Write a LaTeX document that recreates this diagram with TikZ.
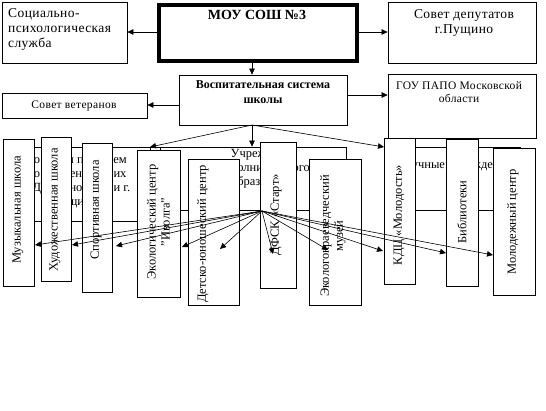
\documentclass[tikz,border=0pt]{standalone}
\usepackage{fontspec}
\setmainfont{Liberation Serif}
\newfontfamily\widefont[LetterSpace=3]{Liberation Serif}
\usetikzlibrary{arrows.meta,fit}
\begin{document}
\begin{tikzpicture}[x=1bp,y=-1bp,
 box/.style={draw, fill=white, line width=0.8bp, inner sep=0pt},
 bgbox/.style={draw, line width=0.8bp, inner sep=0pt},
 thickbox/.style={draw, fill=white, line width=3.8bp, inner sep=0pt},
 arr/.style={line width=0.6bp, -{Triangle[length=6bp,width=5.5bp]}},
 txt/.style={font=\fontsize{12.5bp}{14bp}\selectfont, inner sep=0pt, align=center},
 ttxt/.style={font=\widefont\fontsize{13.5bp}{15bp}\selectfont, inner sep=0pt, align=center},
 btxt/.style={font=\bfseries\fontsize{12bp}{15bp}\selectfont, inner sep=0pt, align=center},
 stxt/.style={font=\widefont\fontsize{11.5bp}{13bp}\selectfont, inner sep=0pt, align=center},
 vtxt/.style={txt, rotate=90},
 frag/.style={font=\fontsize{12.5bp}{14bp}\selectfont, inner sep=0pt, anchor=base}]
\useasboundingbox (0,0) rectangle (546,410);

% top row
\node[box, fit={(2,2) (127,63)}] (soc) {};
\node[ttxt, align=left, anchor=north west] (soct) at (8,8) {Социально-\\психологическая\\служба};
\node[thickbox, fit={(159,5) (357,61)}] (mou) {};
\node[font=\bfseries\fontsize{14bp}{15bp}\selectfont, inner sep=0pt, anchor=base] (mout) at (257,19) {МОУ СОШ №3};
\node[box, fit={(388,2) (536,63)}] (dep) {};
\node[ttxt, anchor=north] (dept) at (464,9) {Совет депутатов\\г.Пущино};

% second row
\node[box, fit={(179,75) (347,125)}] (vs) {};
\node[btxt, anchor=north] (vst) at (263,80) {Воспитательная система\\школы};
\node[box, fit={(2,93) (147,118)}] (vet) {};
\node[stxt, anchor=base] (vett) at (74,108) {Совет ветеранов};
\node[box, fit={(388,74) (536,138)}] (gou) {};
\node[stxt, anchor=north] (gout) at (459,81) {ГОУ ПАПО Московской\\области};

\coordinate (mouL) at (159,32);
\coordinate (mouR) at (357,32);
\coordinate (mouB) at (252,61);
\draw[arr] (mou.west |- mouL) -- (soc.east |- mouL);
\draw[arr] (mou.east |- mouR) -- (dep.west |- mouR);
\draw[arr] (mouB |- mou.south) -- (mouB |- vs.north);
\coordinate (vsL) at (179,105);
\coordinate (vsR) at (347,95);
\draw[arr] (vs.west |- vsL) -- (vet.east |- vsL);
\draw[arr] (vs.east |- vsR) -- (gou.west |- vsR);

% background boxes
\node[bgbox, fit={(20,147) (160,221)}] (bg1) {};
\node[bgbox, fit={(150,147) (346,210)}] (bg2) {};
\node[bgbox, fit={(400,147) (520,210)}] (bg3) {};
\node[txt, anchor=north] (bg2t) at (264,149) {Учреждения\\дополнительного\\образования};
\node[txt, anchor=base] (bg3t) at (455,168) {Научные учреждения};
\node[frag] (f1) at (37,163) {о};
\node[frag] (f2) at (76,163) {я п};
\node[frag] (f3) at (120,163) {ем};
\node[frag] (f4) at (37,177) {о};
\node[frag] (f5) at (76,177) {ен};
\node[frag] (f6) at (120,177) {их};
\node[frag] (f7) at (37,191) {Д};
\node[frag] (f8) at (76,191) {но};
\node[frag] (f9) at (122,191) {и г.};
\node[frag] (f10) at (76,205) {щи};

% vertical boxes
\node[box, fit={(3,139) (34,286)}] (muz) {};
\node[vtxt] (muzt) at (18,210) {Музыкальная школа};
\node[box, fit={(41,137) (71,281)}] (hud) {};
\node[vtxt] (hudt) at (55,210) {Художественная школа};
\node[box, fit={(82,143) (112,292)}] (sport) {};
\node[vtxt] (sportt) at (96,210) {Спортивная школа};
\node[box, fit={(137,150) (180,297)}] (eco) {};
\node[vtxt] (ecot) at (158.5,222) {Экологический центр\\"Иволга"};
\node[box, fit={(188,159) (239,305)}] (det) {};
\node[vtxt] (dett) at (203,234) {Детско-юношеский центр};
\node[box, fit={(260,142) (296,288)}] (start) {};
\node[vtxt] (startt) at (276,215) {ДФСК «Старт»};
\node[box, fit={(309,159) (361,305)}] (mus) {};
\node[vtxt] (must) at (333,236) {Экологокраеведческий\\музей};
\node[box, fit={(384,138) (415,284)}] (kdc) {};
\node[vtxt] (kdct) at (399,215) {КДЦ «Молодость»};
\node[box, fit={(446,139) (478,286)}] (bib) {};
\node[vtxt] (bibt) at (462,212) {Библиотеки};
\node[box, fit={(493,148) (535,295)}] (mol) {};
\node[vtxt] (molt) at (513,222) {Молодежный центр};

% arrows from Воспитательная система
\coordinate (vsB) at (252,125);
\coordinate (ta) at (150,147);
\coordinate (tc) at (384,147);
\draw[arr] (vsB) -- (ta);
\draw[arr] (vsB) -- (vsB |- bg2.north);
\draw[arr] (vsB) -- (tc);

% arrows from hub
\coordinate (hub) at (262,211);
\coordinate (tmuz) at (35,245);
\coordinate (thud) at (72,245);
\coordinate (tsport) at (116,246);
\coordinate (teco) at (182,247);
\coordinate (tdet) at (220,249);
\coordinate (tstart) at (273,254);
\coordinate (tmus) at (328,250);
\coordinate (tkdc) at (383,251);
\coordinate (tbib) at (446,253);
\coordinate (tmol) at (493,255);
\foreach \t in {tmuz,thud,tsport,teco,tdet,tstart,tmus,tkdc,tbib,tmol}
  \draw[arr] (hub) -- (\t);
\end{tikzpicture}
\end{document}
